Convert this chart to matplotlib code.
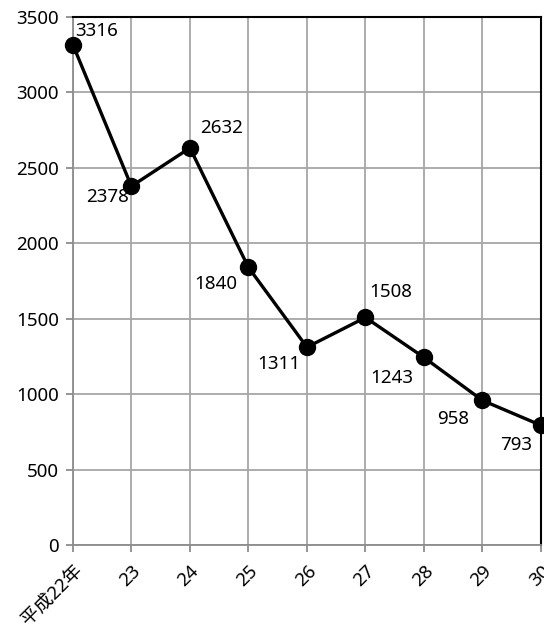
import matplotlib

matplotlib.use("Agg")

import matplotlib.pyplot as plt

plt.rcParams["font.family"] = ["Noto Sans", "Noto Sans CJK JP", "DejaVu Sans"]

years = ["平成22年", "23", "24", "25", "26", "27", "28", "29", "30"]
counts = [3316, 2378, 2632, 1840, 1311, 1508, 1243, 958, 793]
# label offsets in pixels from each point
label_offsets = [(24, 14), (-24, -11), (32, 20), (-33, -17), (-28, -17),
                 (25, 25), (-32, -21), (-29, -19), (-25, -20)]

fig = plt.figure(figsize=(5.44, 6.30), dpi=100, facecolor="white")
ax = fig.add_axes([0.134, 0.135, 0.8605, 0.838])

xs = list(range(len(years)))
ax.plot(xs, counts, color="black", lw=2.4, marker="o", ms=11.5, zorder=5, clip_on=False)

for x, v, (dx, dy) in zip(xs, counts, label_offsets):
    ax.annotate(str(v), (x, v), xytext=(dx, dy), textcoords="offset pixels",
                ha="center", va="center", fontsize=13.5, zorder=6)

ax.set_xlim(0, 8)
ax.set_ylim(0, 3500)
ax.set_yticks(range(0, 3501, 500))
ax.set_xticks(xs)
ax.set_xticklabels(years, rotation=45, ha="right", rotation_mode="anchor")
ax.grid(True, color="#a6a6a6", lw=1.3)
ax.set_axisbelow(True)

ax.tick_params(axis="both", colors="#8c8c8c", length=5, width=1.3, labelcolor="black",
               labelsize=13.5)
ax.tick_params(axis="x", pad=7)
ax.tick_params(axis="y", pad=5)
for side in ("left", "bottom"):
    ax.spines[side].set_color("#8c8c8c")
    ax.spines[side].set_linewidth(1.3)
for side in ("top", "right"):
    ax.spines[side].set_color("black")
    ax.spines[side].set_linewidth(1.5)

fig.savefig("out.png", facecolor="white")
